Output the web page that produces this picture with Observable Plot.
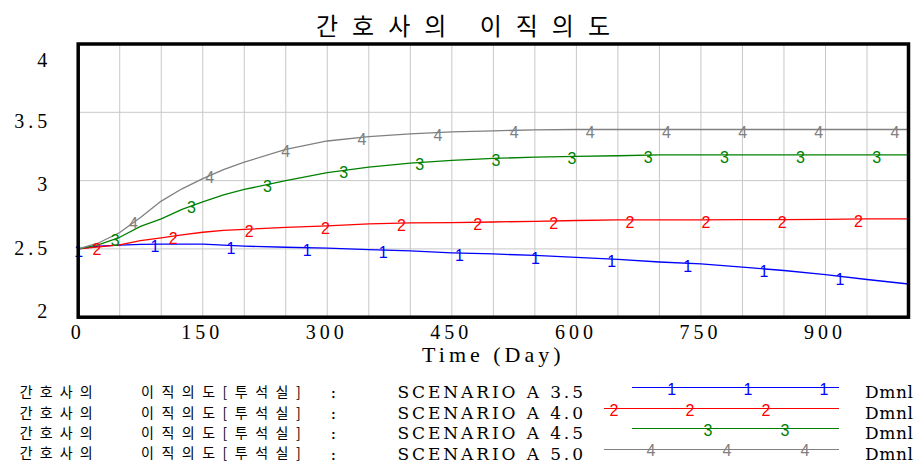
<!DOCTYPE html>
<html><head><meta charset="utf-8">
<script src="https://cdn.jsdelivr.net/npm/d3@7"></script>
<script src="https://cdn.jsdelivr.net/npm/@observablehq/plot@0.6"></script>
<style>
body{margin:0;background:#fff;width:920px;height:466px;overflow:hidden;position:relative;}
#title{position:absolute;left:316px;top:9px;font-family:"Noto Sans CJK KR";font-size:24px;letter-spacing:14px;white-space:pre;color:#000;line-height:32px}
#chart{position:absolute;left:0;top:0}
.ko{position:absolute;font-family:"Noto Sans CJK KR";font-size:14px;letter-spacing:7.5px;white-space:pre;line-height:18px;color:#000}
.la{position:absolute;font-family:"DejaVu Serif";font-size:17px;letter-spacing:2.9px;white-space:pre;line-height:18px;color:#000}
.sw{position:absolute;height:0;border-top:1.5px solid}
.mk{position:absolute;font-family:"Liberation Sans";font-size:16px;line-height:16px;transform:translate(-50%,-50%)}
</style>
</head><body>
<div id="chart"></div>
<div id="title"></div>
<div id="legend"></div>
<script>
// ---- data ----
const chartTitle = "간호사의 이직의도";
const varName = "간호사의 이직의도[투석실]";
const unitName = "Dmnl";
const xLabel = "Time (Day)";
const seriesNames = ["SCENARIO A 3.5","SCENARIO A 4.0","SCENARIO A 4.5","SCENARIO A 5.0"];
const seriesColors = ["#0000ff","#ff0000","#008000","#808080"];
const xTicks = [0,150,300,450,600,750,900];
const yTicks = [2,2.5,3,3.5,4];
const days = [0,25,50,75,100,125,150,175,200,250,300,350,400,450,500,550,600,650,700,750,800,850,900,950,1000];
const scenario35 = [2.5,2.52,2.527,2.533,2.535,2.535,2.535,2.527,2.52,2.512,2.505,2.494,2.485,2.471,2.463,2.452,2.438,2.424,2.404,2.39,2.366,2.342,2.312,2.276,2.243];
const scenario40 = [2.5,2.515,2.53,2.56,2.58,2.603,2.622,2.636,2.643,2.657,2.669,2.683,2.69,2.693,2.697,2.702,2.708,2.713,2.713,2.713,2.714,2.714,2.716,2.72,2.72];
const scenario45 = [2.5,2.532,2.585,2.665,2.72,2.79,2.845,2.895,2.935,3.0,3.058,3.098,3.128,3.148,3.162,3.172,3.178,3.182,3.188,3.188,3.188,3.188,3.188,3.188,3.188];
const scenario50 = [2.5,2.545,2.62,2.73,2.85,2.94,3.015,3.08,3.135,3.228,3.29,3.322,3.342,3.357,3.364,3.372,3.374,3.374,3.374,3.374,3.374,3.374,3.374,3.374,3.374];
const seriesValues = [scenario35, scenario40, scenario45, scenario50];
const markerStart = [3,25,47,69];
const markerStep = 91.7;

// ---- build ----
const rows = [];
seriesValues.forEach((vals,k)=>vals.forEach((v,i)=>rows.push({t:days[i], v, s:seriesNames[k]})));
function valueAt(vals,t){
  const i = Math.min(days.length-2, Math.max(0, d3.bisectRight(days,t)-1));
  const f = (t-days[i])/(days[i+1]-days[i]);
  return vals[i] + f*(vals[i+1]-vals[i]);
}
const markers = [];
seriesValues.forEach((vals,k)=>{
  for(let t=markerStart[k]; t<=1000; t+=markerStep) markers.push({t, v:valueAt(vals,t), s:seriesNames[k], label:String(k+1)});
});
const labelDy = {4:16.5, 3.5:9, 3:4.3, 2.5:0, 2:-6};

const plot = Plot.plot({
  width:920, height:370,
  marginLeft:77.7, marginRight:12, marginTop:43.5, marginBottom:53.3,
  x:{domain:[0,1000]},
  y:{domain:[2,4]},
  color:{domain:seriesNames, range:seriesColors},
  style:{fontFamily:"Liberation Serif", background:"transparent", color:"#000", letterSpacing:"4px"},
  marks:[
    Plot.gridX(d3.range(50,1000,50), {stroke:"#c8c8c8", strokeOpacity:1, strokeWidth:1}),
    Plot.gridY([2.5,3,3.5], {stroke:"#c8c8c8", strokeOpacity:1, strokeWidth:1}),
    Plot.line(rows, {x:"t", y:"v", z:"s", stroke:"s", strokeWidth:1.3}),
    Plot.text(markers, {x:"t", y:"v", text:"label", fill:"s", fontSize:16, fontFamily:"Liberation Sans", dy:3, style:"letter-spacing:0"}),
    Plot.frame({stroke:"#000", strokeWidth:3.5}),
    ...yTicks.map(v=>Plot.axisY([v], {tickSize:0, tickPadding:27, fontSize:20, dy:labelDy[v], tickFormat:d=>String(d), label:null})),
    Plot.axisX(xTicks, {tickSize:0, tickPadding:8, fontSize:20, dx:-0.5, tickFormat:d=>String(d), label:null}),
    Plot.axisX({ticks:[], tickSize:0, fontSize:22, label:xLabel, labelAnchor:"center", labelArrow:"none", labelOffset:45})
  ]
});
document.getElementById("chart").appendChild(plot);
document.getElementById("title").textContent = chartTitle;

// ---- legend ----
const legend = document.getElementById("legend");
const [koA, koB] = varName.split(" ");
const swStart = [632,604,632,604];
const swDigits = [[671.7,748,824],[614,690,766],[708,785],[651,727,805]];
function add(cls, txt, css){const e=document.createElement("div");e.className=cls;e.textContent=txt;Object.assign(e.style,css);legend.appendChild(e);return e;}
seriesNames.forEach((name,i)=>{
  const c = 392 + i*20.4;
  add("ko", koA, {left:"19.7px", top:(c-9.8)+"px", letterSpacing:"7.1px"});
  add("ko", koB, {left:"141px", top:(c-9.8)+"px"});
  add("la", ":", {left:"330.6px", top:(c-8.7)+"px"});
  add("la", name, {left:"397.5px", top:(c-8.7)+"px"});
  add("la", unitName, {left:"865px", top:(c-8.7)+"px", letterSpacing:"0.6px"});
  const ly = c-3.8;
  add("sw", "", {left:swStart[i]+"px", width:(839-swStart[i])+"px", top:(ly-0.75)+"px", borderTopColor:seriesColors[i]});
  swDigits[i].forEach(x=>add("mk", String(i+1), {left:x+"px", top:(ly+2)+"px", color:seriesColors[i]}));
});
</script>
</body></html>
